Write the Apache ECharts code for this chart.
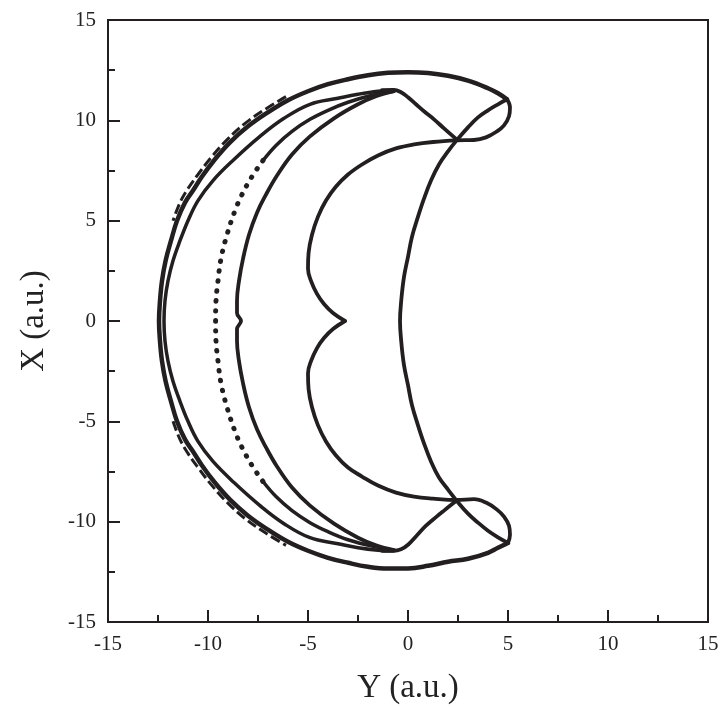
<!DOCTYPE html>
<html>
<head>
<meta charset="utf-8">
<script src="https://cdn.jsdelivr.net/npm/echarts@6/dist/echarts.min.js"></script>
<style>
  html, body { margin: 0; padding: 0; background: #fff; }
  #myChart { width: 722px; height: 710px; }
</style>
</head>
<body>
<div id="myChart"></div>
<script>
// every point is [Y, X] in a.u.
const outerArc = [
  [4.95, 11.05], [4.5, 11.35], [4.0, 11.6], [3.0, 11.98], [2.0, 12.22], [1.0, 12.36], [0, 12.4],
  [-1, 12.37], [-2, 12.25], [-3, 12.05], [-4, 11.8], [-5, 11.45], [-6, 11.0], [-7, 10.4],
  [-8, 9.7], [-8.9, 8.9], [-9.7, 8.0], [-10.3, 7.2], [-10.75, 6.5], [-11.15, 5.9], [-11.55, 5.0],
  [-11.85, 4.0], [-12.12, 3.0], [-12.3, 2.0], [-12.4, 1.0], [-12.45, 0],
  [-12.4, -1.0], [-12.3, -2.0], [-12.12, -3.0], [-11.85, -4.0], [-11.55, -5.0], [-11.15, -5.9],
  [-10.75, -6.5], [-10.3, -7.2], [-9.7, -8.0], [-8.9, -8.9], [-8, -9.7], [-7, -10.4], [-6, -11.0],
  [-5, -11.45], [-4, -11.8], [-3, -12.05], [-2, -12.25], [-1, -12.34], [0, -12.33], [1.0, -12.2],
  [2.0, -12.0], [3.0, -11.85], [4.0, -11.55], [4.5, -11.3], [5.0, -11.06]
];
const outerDashes = [
  [-6.1, 11.18], [-7.11, 10.57], [-8.13, 9.86], [-9.04, 9.04], [-9.86, 8.13], [-10.5, 7.3],
  [-11.0, 6.6], [-11.4, 5.9], [-11.75, 5.0]
];
const outerDashesLow = [
  [-11.75, -5.0], [-11.4, -5.9], [-11.0, -6.6], [-10.5, -7.3], [-9.86, -8.13], [-9.04, -9.04],
  [-8.13, -9.86], [-7.11, -10.57], [-6.1, -11.18]
];
const innerArc2 = [
  [-0.7, 11.5], [-1.5, 11.45], [-2.5, 11.3], [-3.5, 11.1], [-4.9, 10.8], [-6.2, 10.1], [-7.4, 9.2],
  [-8.7, 8.05], [-9.75, 7.0], [-10.5, 6.0], [-11.0, 5.0], [-11.4, 4.0], [-11.75, 3.0],
  [-12.0, 2.0], [-12.15, 1.0], [-12.2, 0], [-12.15, -1.0], [-12.0, -2.0], [-11.75, -3.0],
  [-11.4, -4.0], [-11.0, -5.0], [-10.5, -6.0], [-9.75, -7.0], [-8.7, -8.05],
  [-7.4, -9.2], [-6.2, -10.1], [-4.9, -10.8], [-3.5, -11.1], [-2.5, -11.3], [-1.5, -11.42],
  [-0.7, -11.45]
];
const innerArc3Top = [
  [-0.7, 11.45], [-1.8, 11.25], [-3.0, 10.9], [-4.0, 10.5], [-4.9, 10.05], [-5.8, 9.45],
  [-6.6, 8.75], [-7.25, 8.0]
];
const innerArc3Dots = [
  [-7.25, 8.0], [-7.8, 7.2], [-8.3, 6.3], [-8.65, 5.5], [-9.05, 4.3], [-9.35, 3.1], [-9.5, 2.0],
  [-9.6, 1.0], [-9.62, 0], [-9.6, -1.0], [-9.5, -2.0], [-9.35, -3.1], [-9.05, -4.3],
  [-8.65, -5.5], [-8.3, -6.3], [-7.8, -7.2], [-7.25, -8.0]
];
const innerArc3Low = [
  [-7.25, -8.0], [-6.6, -8.75], [-5.8, -9.45], [-4.9, -10.05], [-4.0, -10.5], [-3.0, -10.9],
  [-1.8, -11.22], [-0.7, -11.42]
];
const innerArc4 = [
  [-0.7, 11.45], [-1.6, 11.2], [-2.5, 10.8], [-3.7, 10.1], [-4.9, 9.2], [-5.8, 8.3], [-6.55, 7.25],
  [-7.1, 6.3], [-7.55, 5.4], [-7.95, 4.3], [-8.25, 3.1], [-8.45, 2.0], [-8.55, 1.0], [-8.55, 0.4],
  [-8.35, 0], [-8.55, -0.4], [-8.55, -1.0], [-8.45, -2.0], [-8.25, -3.1], [-7.95, -4.3],
  [-7.55, -5.4], [-7.1, -6.3], [-6.55, -7.25], [-5.8, -8.3], [-4.9, -9.2], [-3.7, -10.1],
  [-2.5, -10.8], [-1.6, -11.18], [-0.7, -11.42]
];
const wiggleTop = [
  [-1.3, 11.5], [-0.7, 11.52], [-0.35, 11.4], [0.0, 11.15], [0.4, 10.8], [0.8, 10.45],
  [1.3, 10.05], [1.8, 9.6], [2.43, 9.05]
];
const wiggleLow = [
  [2.43, -8.95], [1.8, -9.45], [1.43, -9.75], [0.9, -10.2], [0.43, -10.7], [0.0, -11.15],
  [-0.35, -11.38], [-0.73, -11.45], [-1.3, -11.45]
];
const rightArc = [
  [4.95, 11.05], [4.5, 10.8], [4.0, 10.5], [3.5, 10.15], [3.0, 9.65], [2.43, 9.0], [2.0, 8.45],
  [1.55, 7.8], [1.15, 7.0], [0.8, 6.1], [0.5, 5.2], [0.2, 4.2], [0.0, 3.2], [-0.2, 2.2],
  [-0.33, 1.1], [-0.4, 0], [-0.33, -1.1], [-0.2, -2.2], [0.0, -3.2], [0.2, -4.2], [0.5, -5.2],
  [0.8, -6.1], [1.15, -7.0], [1.55, -7.8], [2.0, -8.4], [2.43, -8.95], [3.0, -9.6], [3.5, -10.05],
  [4.0, -10.45], [4.5, -10.78], [5.0, -11.06]
];
const loopTop = [
  [4.95, 11.05], [5.1, 10.65], [5.05, 10.2], [4.8, 9.75], [4.45, 9.45], [3.9, 9.15], [3.3, 9.02],
  [2.43, 9.0], [1.25, 8.92], [0.3, 8.8], [-0.6, 8.6], [-1.5, 8.25], [-2.3, 7.8], [-3.0, 7.3],
  [-3.6, 6.7], [-4.1, 6.0], [-4.5, 5.2], [-4.8, 4.3], [-4.97, 3.4], [-5.0, 2.6], [-4.85, 2.0],
  [-4.55, 1.35], [-4.2, 0.85], [-3.75, 0.4], [-3.15, 0]
];
const loopLow = [
  [-3.15, 0], [-3.75, -0.4], [-4.2, -0.85], [-4.55, -1.35], [-4.85, -2.0], [-5.0, -2.6],
  [-4.97, -3.4], [-4.8, -4.3], [-4.5, -5.2], [-4.1, -6.0], [-3.6, -6.7], [-3.0, -7.3],
  [-2.3, -7.75], [-1.5, -8.2], [-0.6, -8.55], [0.3, -8.75], [1.25, -8.85], [2.43, -8.92],
  [3.3, -8.88], [3.9, -9.05], [4.45, -9.4], [4.8, -9.75], [5.05, -10.2], [5.1, -10.65], [5.0, -11.06]
];
const axisTicks = [-15, 15, 5];

const ink = '#231f20';
const serif = 'Liberation Serif, Times New Roman, serif';

function curve(data, width, extra) {
  return Object.assign({
    type: 'line',
    data: data,
    smooth: 0.4,
    showSymbol: false,
    symbol: 'none',
    animation: false,
    silent: true,
    lineStyle: { color: ink, width: width, cap: 'round', join: 'round' }
  }, extra || {});
}

let chartDom = document.getElementById('myChart');
let myChart = echarts.init(chartDom);

let axisCommon = {
  type: 'value',
  min: axisTicks[0],
  max: axisTicks[1],
  interval: axisTicks[2],
  nameLocation: 'middle',
  axisLine: { show: true, onZero: false, lineStyle: { color: ink, width: 2 } },
  axisTick: { show: true, inside: true, length: 12, lineStyle: { color: ink, width: 2 } },
  minorTick: { show: true, splitNumber: 2, length: 7, lineStyle: { color: ink, width: 2 } },
  splitLine: { show: false },
  axisLabel: { color: '#222', fontFamily: serif, fontSize: 21, margin: 12 }
};

let option = {
  backgroundColor: '#fff',
  grid: {
    left: 108, right: 14, top: 20, bottom: 88,
    show: true, borderColor: ink, borderWidth: 2
  },
  xAxis: Object.assign({}, axisCommon, {
    name: 'Y (a.u.)',
    nameGap: 50,
    nameTextStyle: { color: '#222', fontFamily: serif, fontSize: 33 }
  }),
  yAxis: Object.assign({}, axisCommon, {
    name: 'X (a.u.)',
    nameGap: 57,
    nameTextStyle: { color: '#222', fontFamily: serif, fontSize: 33 }
  }),
  series: [
    curve(outerArc, 4.5),
    curve(outerDashes, 3, { lineStyle: { color: ink, width: 3, type: [10, 4] } }),
    curve(outerDashesLow, 3, { lineStyle: { color: ink, width: 3, type: [10, 4] } }),
    curve(innerArc2, 3.5),
    curve(innerArc3Top, 3.5),
    curve(innerArc3Dots, 5, { lineStyle: { color: ink, width: 5, cap: 'round', type: [0.5, 9.5] } }),
    curve(innerArc3Low, 3.5),
    curve(innerArc4, 3.8),
    curve(wiggleTop, 3.8),
    curve(wiggleLow, 3.8),
    curve(rightArc, 3.8),
    curve(loopTop, 3.8),
    curve(loopLow, 3.8)
  ]
};

option && myChart.setOption(option);
</script>
</body>
</html>
